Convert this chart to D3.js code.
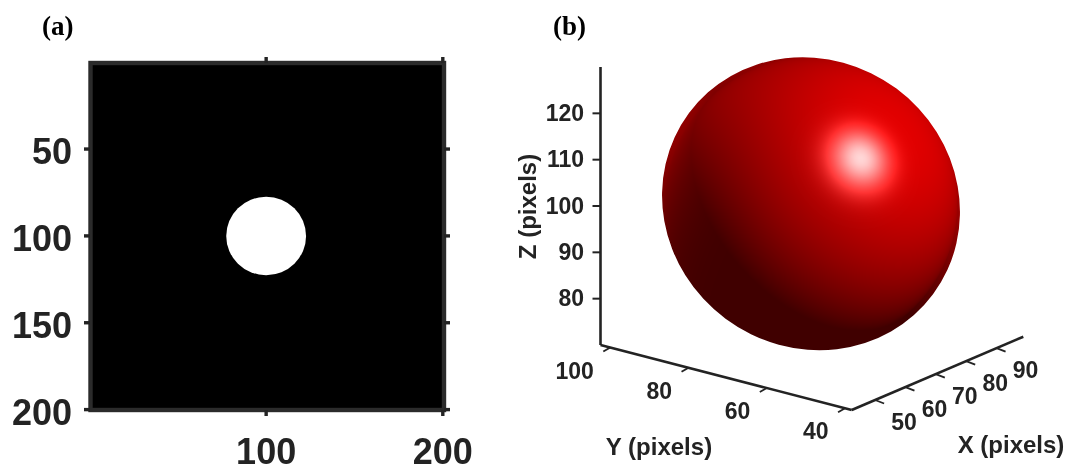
<!DOCTYPE html>
<html><head><meta charset="utf-8">
<script src="https://cdnjs.cloudflare.com/ajax/libs/d3/7.8.5/d3.min.js"></script>
<style>html,body{margin:0;padding:0;background:#fff}svg{display:block;filter:blur(.35px)}</style>
</head><body><svg id="c" width="1071" height="466"></svg>
<script>
// panel (a)
const aXTicks=[100,200];
const aYTicks=[50,100,150,200];
const aDisk={cx:100,cy:100,r:22.6};
// panel (b)
const xTicks=[50,60,70,80,90];
const yTicks=[100,80,60,40];
const zTicks=[120,110,100,90,80];
const sphereZ={center:100.5,radius:31.6};
const panelLabels=["(a)","(b)"];
const axisLabels=["X (pixels)","Y (pixels)","Z (pixels)"];

const svg=d3.select("#c");
const ink="#232323";
const sans="'Liberation Sans',Arial,sans-serif", serif="'Liberation Serif','Times New Roman',serif";

/* ---------- (a) ---------- */
const ax=d3.scaleLinear().domain([0,200]).range([89.5,442.8]);
const ay=d3.scaleLinear().domain([0,200]).range([62.2,409.6]);
const A=svg.append("g");
A.append("rect").attr("x",90.5).attr("y",63).attr("width",353.5).attr("height",347)
 .attr("fill","#000").attr("stroke","#2b2b2b").attr("stroke-width",4.4);
A.append("ellipse").attr("cx",ax(aDisk.cx)).attr("cy",ay(aDisk.cy))
 .attr("rx",ax(aDisk.r)-ax(0)).attr("ry",ay(aDisk.r)-ay(0)).attr("fill","#fff");
aYTicks.forEach(v=>{
  [[84,90],[444,450]].forEach(s=>A.append("line").attr("x1",s[0]).attr("x2",s[1]).attr("y1",ay(v)).attr("y2",ay(v)).attr("stroke",ink).attr("stroke-width",3.4));
  A.append("text").attr("x",72).attr("y",ay(v)+15).attr("text-anchor","end").text(v)
   .attr("font-family",sans).attr("font-weight","bold").attr("font-size",36).attr("fill",ink);
});
aXTicks.forEach(v=>{
  [[57,63],[410,416]].forEach(s=>A.append("line").attr("y1",s[0]).attr("y2",s[1]).attr("x1",ax(v)).attr("x2",ax(v)).attr("stroke",ink).attr("stroke-width",3.4));
  A.append("text").attr("x",ax(v)).attr("y",464).attr("text-anchor","middle").text(v)
   .attr("font-family",sans).attr("font-weight","bold").attr("font-size",36).attr("fill",ink);
});

/* ---------- (b) ---------- */
const zY=d3.scaleLinear().domain([70,130]).range([345,67]);
const yPX=d3.scaleLinear().domain([38.3,102.5]).range([851.7,600.5]);
const yPY=d3.scaleLinear().domain([38.3,102.5]).range([410,345]);
const xPX=d3.scaleLinear().domain([42.3,98.8]).range([851.7,1023.3]);
const xPY=d3.scaleLinear().domain([42.3,98.8]).range([410,336.7]);
const B=svg.append("g");
const seg=(x1,y1,x2,y2,w)=>B.append("line").attr("x1",x1).attr("y1",y1).attr("x2",x2).attr("y2",y2).attr("stroke",ink).attr("stroke-width",w);
const tick=(x,y,v,a="middle",fs=23)=>B.append("text").attr("x",x).attr("y",y).attr("text-anchor",a).text(v)
   .attr("font-family",sans).attr("font-weight","bold").attr("font-size",fs).attr("fill",ink);

// sphere shading
const cxS=811, cyS=zY(sphereZ.center);
const pxR=zY(sphereZ.center-sphereZ.radius)-cyS;
const W=330,H=330,cv=document.createElement("canvas");cv.width=W;cv.height=H;
const g=cv.getContext("2d"),im=g.createImageData(W,H);
const norm=v=>{const l=Math.hypot(...v);return v.map(d=>d/l)};
const L1=norm([0.58,-0.50,0.66]), L2=norm([-0.85,-0.5,-0.15]), hN=norm([0.34,-0.31,0.89]);
for(let j=0;j<H;j++)for(let i=0;i<W;i++){
  const nx=(i-W/2+.5)/pxR, ny=(j-H/2+.5)/pxR, rr=Math.min(1,nx*nx+ny*ny), nz=Math.sqrt(1-rr);
  const d1=Math.max(0,nx*L1[0]+ny*L1[1]+nz*L1[2]);
  const d2=Math.max(0,nx*L2[0]+ny*L2[1]+nz*L2[2]);
  const s=Math.max(0,nx*hN[0]+ny*hN[1]+nz*hN[2]);
  const spec=Math.pow(s,48)*.84;
  const base=0.25+0.64*d1+0.3*d2*d2*d2;
  const k=(j*W+i)*4;
  im.data[k]=255*Math.min(1,base+spec);
  im.data[k+1]=im.data[k+2]=255*spec;
  im.data[k+3]=255;
}
g.putImageData(im,0,0);
const defs=svg.append("defs");
defs.append("clipPath").attr("id","sph").append("ellipse").attr("cx",0).attr("cy",0).attr("rx",pxR*1.038).attr("ry",pxR*.979)
  .attr("transform",`translate(${cxS},${cyS}) rotate(36.6)`);
B.append("image").attr("href",cv.toDataURL()).attr("x",cxS-W/2).attr("y",cyS-H/2).attr("width",W).attr("height",H).attr("clip-path","url(#sph)");

// axes
seg(600.5,zY(130),600.5,zY(70),2.6);
seg(yPX(102.5),yPY(102.5),yPX(38.3),yPY(38.3),2.6);
seg(xPX(42.3),xPY(42.3),xPX(98.8),xPY(98.8),2.6);
zTicks.forEach(v=>{seg(592.5,zY(v),600.5,zY(v),2);tick(584,zY(v)+7.5,v,"end");});
yTicks.forEach(v=>{seg(yPX(v),yPY(v),yPX(v)-7,yPY(v)+4,1.8);tick(yPX(v)-16.5,yPY(v)+31,v,"end");});
xTicks.forEach(v=>{seg(xPX(v),xPY(v),xPX(v)+9,xPY(v)+3.5,1.8);tick(xPX(v)+29,xPY(v)+29.7,v);});
tick(1011,453,axisLabels[0],"middle",24);
tick(659,455,axisLabels[1],"middle",24);
B.append("text").attr("transform","translate(535.5,206.5) rotate(-90)").attr("text-anchor","middle").text(axisLabels[2])
 .attr("font-family",sans).attr("font-weight","bold").attr("font-size",24).attr("fill",ink);

// panel letters
[[42,panelLabels[0]],[553,panelLabels[1]]].forEach(d=>svg.append("text").attr("x",d[0]).attr("y",35).text(d[1])
 .attr("font-family",serif).attr("font-weight","bold").attr("font-size",27).attr("fill","#000"));
</script></body></html>
